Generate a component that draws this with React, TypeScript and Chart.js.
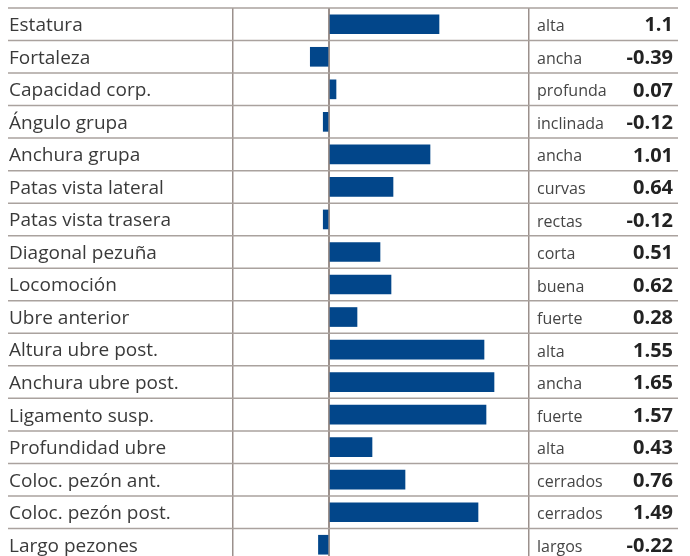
import React, { useEffect, useRef } from 'react';
import { Chart, registerables, LinearScale } from 'chart.js';

Chart.register(...registerables);

const traits = [
  'Estatura',
  'Fortaleza',
  'Capacidad corp.',
  'Ángulo grupa',
  'Anchura grupa',
  'Patas vista lateral',
  'Patas vista trasera',
  'Diagonal pezuña',
  'Locomoción',
  'Ubre anterior',
  'Altura ubre post.',
  'Anchura ubre post.',
  'Ligamento susp.',
  'Profundidad ubre',
  'Coloc. pezón ant.',
  'Coloc. pezón post.',
  'Largo pezones',
];

const descriptors = [
  'alta',
  'ancha',
  'profunda',
  'inclinada',
  'ancha',
  'curvas',
  'rectas',
  'corta',
  'buena',
  'fuerte',
  'alta',
  'ancha',
  'fuerte',
  'alta',
  'cerrados',
  'cerrados',
  'largos',
];

const values = [1.1, -0.39, 0.07, -0.12, 1.01, 0.64, -0.12, 0.51, 0.62, 0.28, 1.55, 1.65, 1.57, 0.43, 0.76, 1.49, -0.22];

const valueLabels = values.map((v) => String(v));

const axisMin = -2;
const axisMax = 2;
const gridTicks = [-2, 0, 2];
const negativeCompression = 0.48;

class SplitLinearScale extends LinearScale {
  static id = 'splitLinear';
  static defaults = LinearScale.defaults;
  _tf(v: number) {
    return v < 0 ? v * negativeCompression : v;
  }
  getPixelForValue(value: number) {
    if (value === null || value === undefined || isNaN(value)) return NaN;
    const a = this._tf(this.min);
    const b = this._tf(this.max);
    return this.getPixelForDecimal((this._tf(value) - a) / (b - a));
  }
  getValueForPixel(pixel: number) {
    const a = this._tf(this.min);
    const b = this._tf(this.max);
    const t = a + this.getDecimalForPixel(pixel) * (b - a);
    return t < 0 ? t / negativeCompression : t;
  }
}
Chart.register(SplitLinearScale as any);

const rowLinesPlugin = {
  id: 'rowLines',
  beforeDatasetsDraw(chart: any) {
    const { ctx, chartArea } = chart;
    const n = traits.length;
    const h = (chartArea.bottom - chartArea.top) / n;
    ctx.save();
    ctx.strokeStyle = '#aaa29e';
    ctx.lineWidth = 1.5;
    for (let i = 0; i <= n; i++) {
      const y = chartArea.top + i * h;
      ctx.beginPath();
      ctx.moveTo(8, y);
      ctx.lineTo(678, y);
      ctx.stroke();
    }
    ctx.restore();
  },
};

const noPad = (s: any, w: number) => {
  s.width = w;
  s.paddingTop = 0;
  s.paddingBottom = 0;
};

export default function App() {
  const ref = useRef<HTMLCanvasElement | null>(null);

  useEffect(() => {
    if (!ref.current) return;
    Chart.defaults.font.family = "'Open Sans'";
    const chart = new Chart(ref.current, {
      type: 'bar',
      data: {
        labels: traits,
        datasets: [
          {
            data: values,
            backgroundColor: '#02468a',
            borderWidth: 0,
            barThickness: 19,
          },
        ],
      },
      options: {
        indexAxis: 'y',
        animation: false,
        responsive: false,
        maintainAspectRatio: false,
        layout: { padding: { left: 9, right: 17, top: 8, bottom: 9 } },
        plugins: { legend: { display: false }, tooltip: { enabled: false } },
        scales: {
          x: {
            type: 'splitLinear' as any,
            min: axisMin,
            max: axisMax,
            position: 'bottom',
            z: 1,
            afterBuildTicks: (s: any) => {
              s.ticks = gridTicks.map((v) => ({ value: v }));
            },
            afterFit: (s: any) => {
              s.height = 0;
              s.paddingLeft = 0;
              s.paddingRight = 0;
            },
            ticks: { display: false },
            border: { display: false },
            grid: {
              drawTicks: false,
              color: '#9b908c',
              lineWidth: (ctx: any) => (ctx.tick && ctx.tick.value === 0 ? 2 : 1.5),
            },
          },
          y: {
            type: 'category',
            position: 'left',
            offset: true,
            grid: { display: false },
            border: { display: false },
            ticks: { crossAlign: 'far', padding: 0, labelOffset: 1.5, color: '#3a3a3a', font: { size: 19 } },
            afterFit: (s: any) => noPad(s, 224),
          },
          y2: {
            type: 'category',
            labels: descriptors,
            position: 'right',
            weight: 0,
            offset: true,
            grid: { display: false },
            border: { display: false },
            ticks: { crossAlign: 'near', padding: 0, labelOffset: 2.5, color: '#454545', font: { size: 16 } },
            afterFit: (s: any) => noPad(s, 84),
          },
          y3: {
            type: 'category',
            labels: valueLabels,
            position: 'right',
            weight: 1,
            offset: true,
            grid: { display: false },
            border: { display: false },
            ticks: { crossAlign: 'far', padding: 0, labelOffset: 1.5, color: '#222222', font: { size: 20, weight: 'bold' } },
            afterFit: (s: any) => noPad(s, 60),
          },
        } as any,
      },
      plugins: [rowLinesPlugin],
    });
    return () => chart.destroy();
  }, []);

  return (
    <div style={{ position: 'absolute', left: 0, top: 0, width: 690, height: 556, overflow: 'hidden', background: '#fff' }}>
      <canvas ref={ref} width={690} height={570} style={{ display: 'block' }} />
    </div>
  );
}
